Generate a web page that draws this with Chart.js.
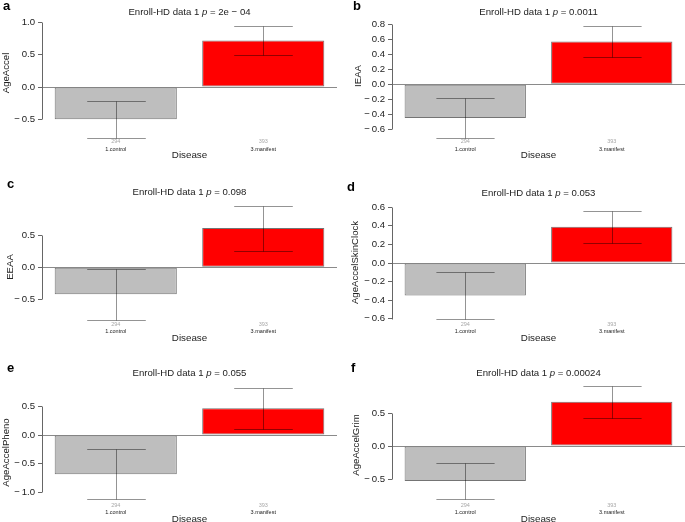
<!DOCTYPE html>
<html lang="en">
<head>
<meta charset="UTF-8">
<title>Enroll-HD epigenetic age acceleration</title>
<script src="https://cdn.jsdelivr.net/npm/chart.js"></script>
<style>
  html, body { margin: 0; padding: 0; background: #fff; }
  #figure { position: relative; width: 685px; height: 522px; overflow: hidden; }
  #figure canvas { position: absolute; }
</style>
</head>
<body>
<div id="figure"></div>
<script>
// values
const categories = ['1.control', '3.manifest'];
const counts = [294, 393];
const panelTags = ['a', 'b', 'c', 'd', 'e', 'f'];
const clockNames = ['AgeAccel', 'IEAA', 'EEAA', 'AgeAccelSkinClock', 'AgeAccelPheno', 'AgeAccelGrim'];
const pValues = ['2e − 04', '0.0011', '0.098', '0.053', '0.055', '0.00024'];
const controlMean = [-0.50, -0.45, -0.42, -0.35, -0.69, -0.53];
const controlErr = [0.29, 0.265, 0.395, 0.25, 0.44, 0.28];
const manifestMean = [0.72, 0.57, 0.61, 0.39, 0.47, 0.67];
const manifestErr = [0.23, 0.21, 0.35, 0.17, 0.357, 0.24];
const yTicks = [
  [-0.5, 0, 0.5, 1.0],
  [-0.6, -0.4, -0.2, 0, 0.2, 0.4, 0.6, 0.8],
  [-0.5, 0, 0.5],
  [-0.6, -0.4, -0.2, 0, 0.2, 0.4, 0.6],
  [-1.0, -0.5, 0, 0.5],
  [-0.5, 0, 0.5]
];

// where each panel sits on the page
const frames = [
  { x: 0,   y: 0,   w: 345, h: 174, left: 42, right: 337, top: 20, bottom: 138.5, min: -0.796, max: 1.036, tagX: 3, tagY: 10, titleY: 12,   yTitleX: 6,  yTitleY: 73 },
  { x: 345, y: 0,   w: 340, h: 174, left: 47, right: 340, top: 22, bottom: 138.5, min: -0.723, max: 0.831, tagX: 8, tagY: 10, titleY: 12,   yTitleX: 13, yTitleY: 76 },
  { x: 0,   y: 174, w: 345, h: 174, left: 42, right: 337, top: 29, bottom: 147,   min: -0.835, max: 1.0,   tagX: 7, tagY: 14, titleY: 18,   yTitleX: 10, yTitleY: 93 },
  { x: 345, y: 174, w: 340, h: 174, left: 47, right: 340, top: 31, bottom: 147,   min: -0.624, max: 0.624, tagX: 2, tagY: 17, titleY: 19.5, yTitleX: 10, yTitleY: 88.5 },
  { x: 0,   y: 348, w: 345, h: 174, left: 42, right: 337, top: 37, bottom: 154,   min: -1.175, max: 0.877, tagX: 7, tagY: 24, titleY: 25,   yTitleX: 6,  yTitleY: 104.5 },
  { x: 345, y: 348, w: 340, h: 174, left: 47, right: 340, top: 35, bottom: 154,   min: -0.848, max: 0.955, tagX: 6, tagY: 24, titleY: 25.5, yTitleX: 11, yTitleY: 97 }
];

const FONT = '"Liberation Sans", Arial, Helvetica, sans-serif';
// R draws a wide minus sign on its tick labels
const fmt = v => v.toFixed(1).replace('-', '\u2212\u2009');

function panelPlugin(i) {
  const f = frames[i];
  return {
    id: 'panel' + i,
    beforeDatasetsDraw(chart) {
      const { ctx, chartArea, scales } = chart;
      const y0 = Math.round(scales.y.getPixelForValue(0)) + 0.5;
      ctx.save();
      ctx.strokeStyle = '#8a8a8a';
      ctx.lineWidth = 1;
      ctx.beginPath();
      ctx.moveTo(chartArea.left + 1, y0);
      ctx.lineTo(chartArea.right, y0);
      ctx.stroke();
      ctx.restore();
    },
    afterDatasetsDraw(chart) {
      const { ctx, chartArea, scales } = chart;
      const meta = chart.getDatasetMeta(0);
      const means = [controlMean[i], manifestMean[i]];
      const errs = [controlErr[i], manifestErr[i]];
      ctx.save();
      ctx.strokeStyle = 'rgba(0,0,0,0.42)';
      ctx.lineWidth = 1;
      meta.data.forEach((bar, j) => {
        const x = Math.round(bar.x) + 0.5;
        const hw = bar.width * 0.24;
        const yHi = Math.round(scales.y.getPixelForValue(means[j] + errs[j])) + 0.5;
        const yLo = Math.round(scales.y.getPixelForValue(means[j] - errs[j])) + 0.5;
        ctx.beginPath();
        ctx.moveTo(x, yHi); ctx.lineTo(x, yLo);
        ctx.moveTo(x - hw, yHi); ctx.lineTo(x + hw, yHi);
        ctx.moveTo(x - hw, yLo); ctx.lineTo(x + hw, yLo);
        ctx.stroke();
      });

      // y axis line spanning the ticks only
      const ax = chartArea.left + 0.5;
      const t = yTicks[i];
      ctx.strokeStyle = '#666';
      ctx.beginPath();
      ctx.moveTo(ax, Math.round(scales.y.getPixelForValue(t[0])) + 0.5);
      ctx.lineTo(ax, Math.round(scales.y.getPixelForValue(t[t.length - 1])) + 0.5);
      ctx.stroke();

      // category labels, group sizes and axis title
      ctx.textAlign = 'center';
      ctx.textBaseline = 'middle';
      meta.data.forEach((bar, j) => {
        ctx.font = '5.5px ' + FONT;
        ctx.fillStyle = '#a8a8a8';
        ctx.fillText(String(counts[j]), bar.x, chartArea.bottom + 3.2);
        ctx.fillStyle = '#222';
        ctx.fillText(categories[j], bar.x, chartArea.bottom + 10.7);
      });
      ctx.font = '9.8px ' + FONT;
      ctx.fillStyle = '#222';
      ctx.fillText('Disease', (chartArea.left + chartArea.right) / 2, chartArea.bottom + 17);

      // title with italic p
      const parts = [
        ['Enroll-HD data 1 ', ''],
        ['p', 'italic '],
        [' = ' + pValues[i], '']
      ];
      let total = 0;
      parts.forEach(p => { ctx.font = p[1] + '9.6px ' + FONT; total += ctx.measureText(p[0]).width; });
      let tx = (chartArea.left + chartArea.right) / 2 - total / 2;
      ctx.textAlign = 'left';
      parts.forEach(p => {
        ctx.font = p[1] + '9.6px ' + FONT;
        ctx.fillText(p[0], tx, f.titleY);
        tx += ctx.measureText(p[0]).width;
      });

      // y axis title
      ctx.save();
      ctx.translate(f.yTitleX, f.yTitleY);
      ctx.rotate(-Math.PI / 2);
      ctx.textAlign = 'center';
      ctx.font = '9.6px ' + FONT;
      ctx.fillText(clockNames[i], 0, 0);
      ctx.restore();

      // panel letter
      ctx.font = 'bold 13px ' + FONT;
      ctx.fillStyle = '#000';
      ctx.textAlign = 'left';
      ctx.textBaseline = 'alphabetic';
      ctx.fillText(panelTags[i], f.tagX, f.tagY);
      ctx.restore();
    }
  };
}

const figure = document.getElementById('figure');

frames.forEach((f, i) => {
  const canvas = document.createElement('canvas');
  canvas.width = f.w;
  canvas.height = f.h;
  canvas.style.left = f.x + 'px';
  canvas.style.top = f.y + 'px';
  canvas.style.width = f.w + 'px';
  canvas.style.height = f.h + 'px';
  figure.appendChild(canvas);

  new Chart(canvas.getContext('2d'), {
    type: 'bar',
    data: {
      labels: categories,
      datasets: [{
        data: [controlMean[i], manifestMean[i]],
        backgroundColor: ['#bebebe', '#ff0000'],
        borderColor: '#747474',
        borderWidth: 1,
        borderSkipped: false,
        barPercentage: 1,
        categoryPercentage: 0.828
      }]
    },
    options: {
      responsive: false,
      animation: false,
      devicePixelRatio: 1,
      layout: { padding: { left: 0, top: f.top, right: f.w - f.right, bottom: 0 } },
      plugins: { legend: { display: false }, tooltip: { enabled: false }, title: { display: false } },
      scales: {
        x: {
          grid: { display: false },
          border: { display: false },
          ticks: { display: false },
          afterFit: s => { s.height = f.h - f.bottom; }
        },
        y: {
          min: f.min,
          max: f.max,
          afterBuildTicks: s => { s.ticks = yTicks[i].map(v => ({ value: v })); },
          afterFit: s => { s.width = f.left; },
          grid: { drawOnChartArea: false, tickLength: 4, color: '#666' },
          border: { display: false },
          ticks: {
            padding: 3,
            color: '#222',
            font: { family: FONT, size: 9.6 },
            callback: v => fmt(v)
          }
        }
      }
    },
    plugins: [panelPlugin(i)]
  });
});
</script>
</body>
</html>
